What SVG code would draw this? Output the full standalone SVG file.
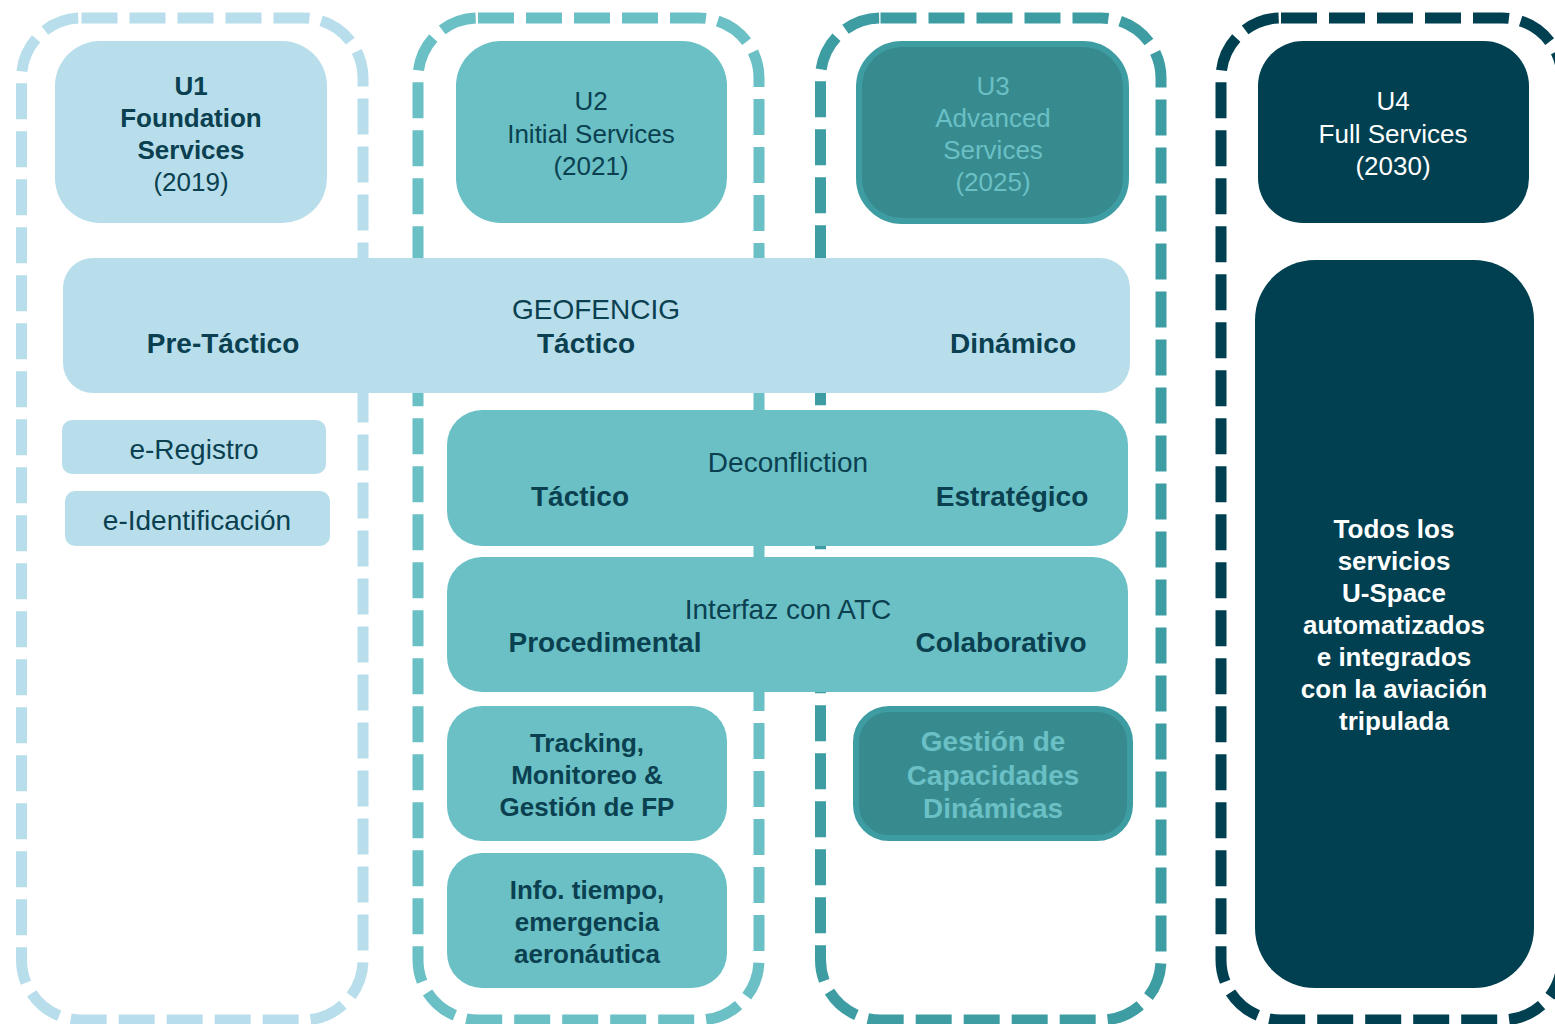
<svg xmlns="http://www.w3.org/2000/svg" width="1555" height="1024" viewBox="0 0 1555 1024">
<style>
.c{fill:none;stroke-width:11;stroke-dasharray:36 12}
.t{font-family:"Liberation Sans",Arial,sans-serif;text-anchor:middle;fill:#0A4050}
.n26{font-size:26px}
.b26{font-size:26px;font-weight:bold}
.n28{font-size:28px}
.b28{font-size:28px;font-weight:bold}
.lb{fill:#B8DEEB}
.lt{fill:#6AC0C5}
.dk{fill:#378A8E;stroke:#3E9DA2;stroke-width:6}
.nv{fill:#004050}
</style>
<rect width="1555" height="1024" fill="#fff"/>
<g id="containers">
<rect class="c" x="21.5" y="18" width="341.5" height="1002" rx="60" stroke="#B8DEEB"/>
<rect class="c" x="418" y="18" width="341" height="1002" rx="60" stroke="#6AC0C5"/>
<rect class="c" x="820.5" y="18" width="340.5" height="1002" rx="60" stroke="#3E9DA2"/>
<rect class="c" x="1221" y="18" width="341" height="1002" rx="60" stroke="#004050"/>
</g>
<g id="u1">
<rect class="lb" x="55" y="41" width="272" height="182" rx="45"/>
<text class="t b26" x="191" y="95">U1</text>
<text class="t b26" x="191" y="127">Foundation</text>
<text class="t b26" x="191" y="159">Services</text>
<text class="t n26" x="191" y="191">(2019)</text>
</g>
<g id="u2">
<rect class="lt" x="456" y="41" width="271" height="182" rx="45"/>
<text class="t n26" x="591" y="110">U2</text>
<text class="t n26" x="591" y="143">Initial Services</text>
<text class="t n26" x="591" y="175">(2021)</text>
</g>
<g id="u3">
<rect class="dk" x="859" y="44" width="267" height="177" rx="43"/>
<text class="t n26" x="993" y="95" style="fill:#6AC0C5">U3</text>
<text class="t n26" x="993" y="127" style="fill:#6AC0C5">Advanced</text>
<text class="t n26" x="993" y="159" style="fill:#6AC0C5">Services</text>
<text class="t n26" x="993" y="191" style="fill:#6AC0C5">(2025)</text>
</g>
<g id="u4">
<rect class="nv" x="1258" y="41" width="271" height="182" rx="45"/>
<text class="t n26" x="1393" y="110" style="fill:#fff">U4</text>
<text class="t n26" x="1393" y="143" style="fill:#fff">Full Services</text>
<text class="t n26" x="1393" y="175" style="fill:#fff">(2030)</text>
</g>
<g id="geofencing">
<rect class="lb" x="63" y="258" width="1067" height="135" rx="30"/>
<text class="t n28" x="596" y="319">GEOFENCIG</text>
<text class="t b28" x="223" y="353">Pre-Táctico</text>
<text class="t b28" x="586" y="353">Táctico</text>
<text class="t b28" x="1013" y="353">Dinámico</text>
</g>
<g id="eregistro">
<rect class="lb" x="62" y="420" width="264" height="54" rx="10"/>
<text class="t n28" x="194" y="459">e-Registro</text>
</g>
<g id="eidentificacion">
<rect class="lb" x="65" y="491" width="265" height="55" rx="10"/>
<text class="t n28" x="197" y="530">e-Identificación</text>
</g>
<g id="deconfliction">
<rect class="lt" x="447" y="410" width="681" height="136" rx="35"/>
<text class="t n28" x="788" y="472">Deconfliction</text>
<text class="t b28" x="580" y="506">Táctico</text>
<text class="t b28" x="1012" y="506">Estratégico</text>
</g>
<g id="interfaz">
<rect class="lt" x="447" y="557" width="681" height="135" rx="35"/>
<text class="t n28" x="788" y="619">Interfaz con ATC</text>
<text class="t b28" x="605" y="652">Procedimental</text>
<text class="t b28" x="1001" y="652">Colaborativo</text>
</g>
<g id="tracking">
<rect class="lt" x="447" y="706" width="280" height="135" rx="35"/>
<text class="t b26" x="587" y="752">Tracking,</text>
<text class="t b26" x="587" y="784">Monitoreo &amp;</text>
<text class="t b26" x="587" y="816">Gestión de FP</text>
</g>
<g id="info">
<rect class="lt" x="447" y="853" width="280" height="135" rx="35"/>
<text class="t b26" x="587" y="899">Info. tiempo,</text>
<text class="t b26" x="587" y="931">emergencia</text>
<text class="t b26" x="587" y="963">aeronáutica</text>
</g>
<g id="gestion">
<rect class="dk" x="856" y="709" width="274" height="129" rx="33"/>
<text class="t b28" x="993" y="751" style="fill:#6AC0C5">Gestión de</text>
<text class="t b28" x="993" y="785" style="fill:#6AC0C5">Capacidades</text>
<text class="t b28" x="993" y="818" style="fill:#6AC0C5">Dinámicas</text>
</g>
<g id="todos">
<rect class="nv" x="1255" y="260" width="279" height="728" rx="60"/>
<text class="t b26" x="1394" y="538" style="fill:#fff">Todos los</text>
<text class="t b26" x="1394" y="570" style="fill:#fff">servicios</text>
<text class="t b26" x="1394" y="602" style="fill:#fff">U-Space</text>
<text class="t b26" x="1394" y="634" style="fill:#fff">automatizados</text>
<text class="t b26" x="1394" y="666" style="fill:#fff">e integrados</text>
<text class="t b26" x="1394" y="698" style="fill:#fff">con la aviación</text>
<text class="t b26" x="1394" y="730" style="fill:#fff">tripulada</text>
</g>
<g id="connectors"></g>
</svg>
